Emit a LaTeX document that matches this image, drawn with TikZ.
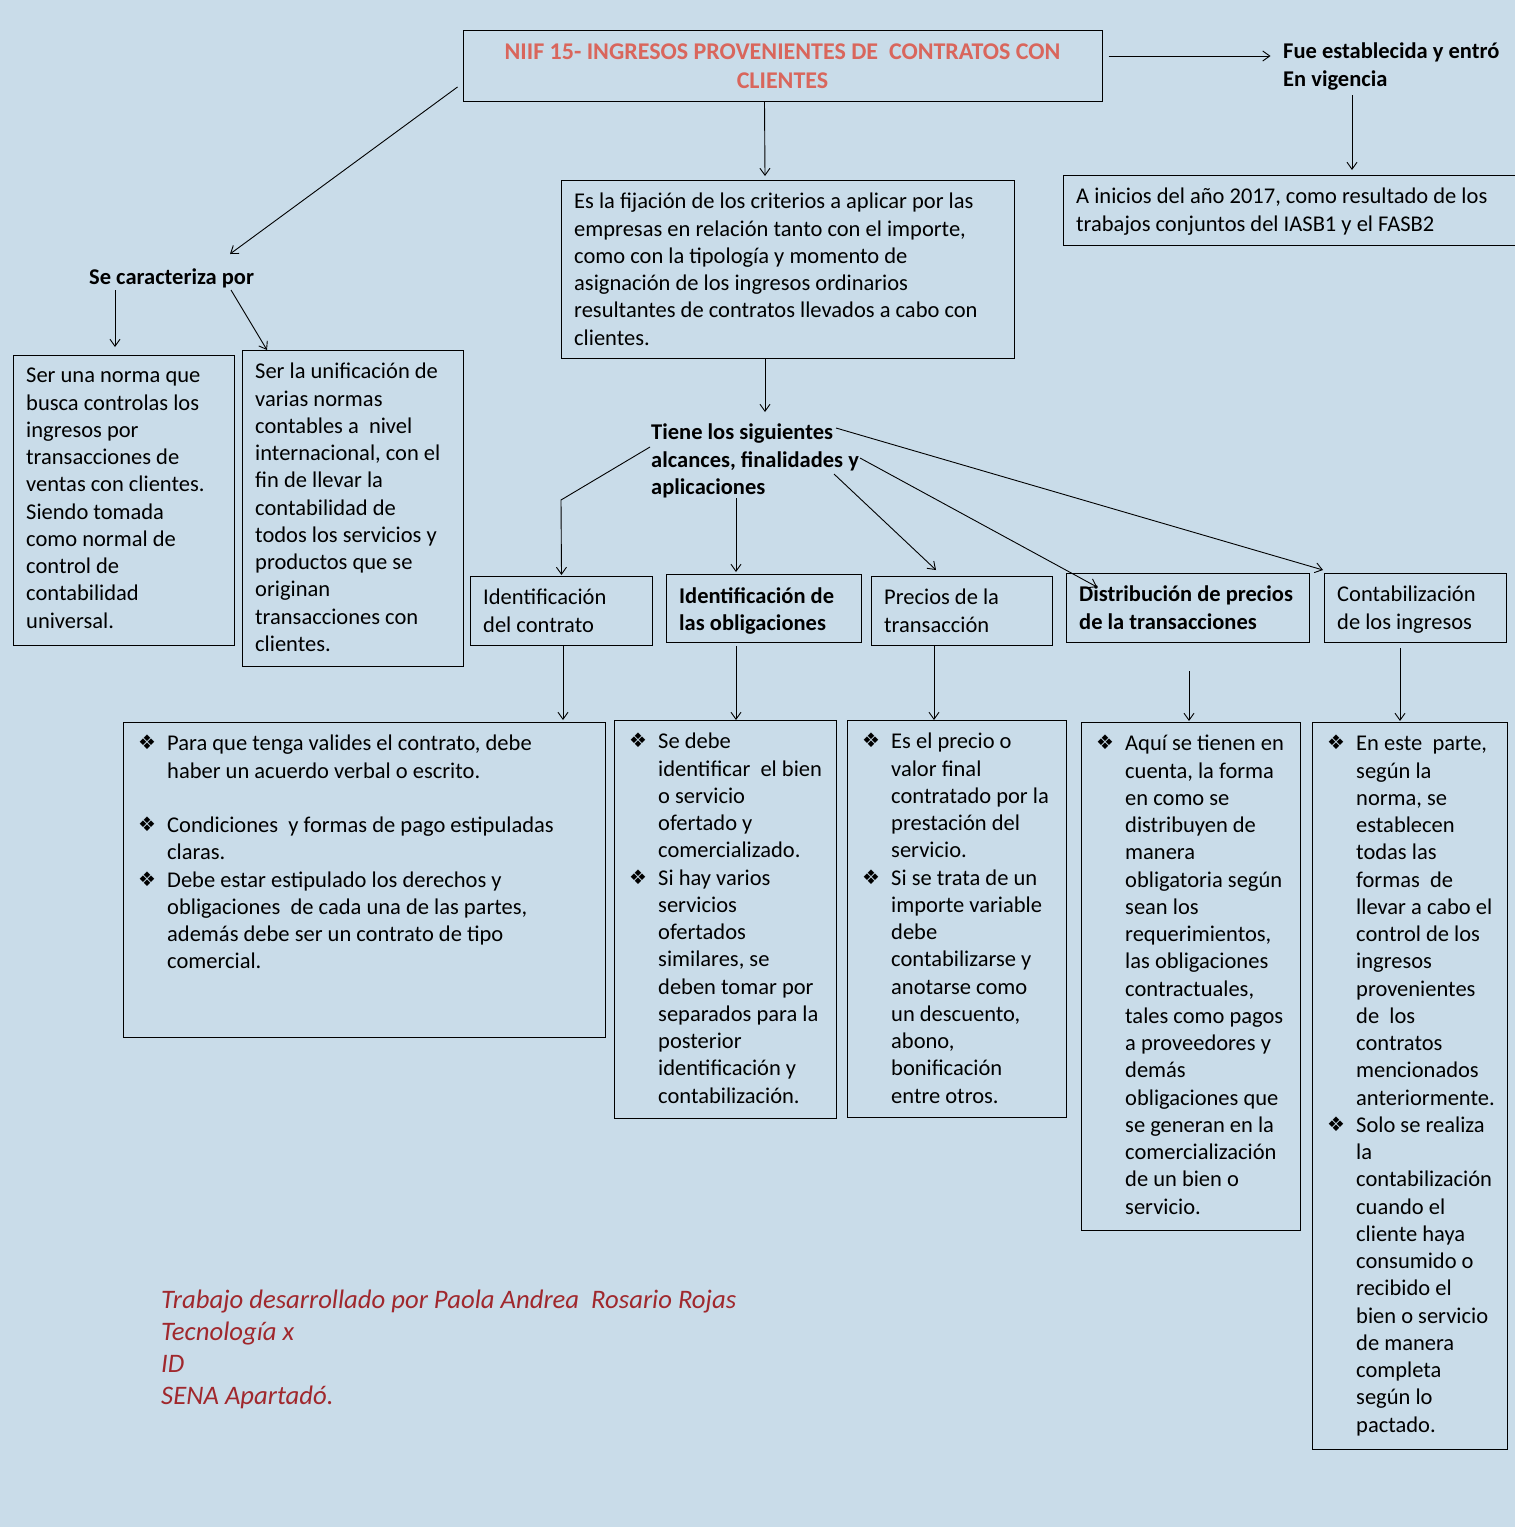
\documentclass[tikz,border=0pt]{standalone}
\usepackage{fontspec}
\setmainfont{Carlito}
\newfontfamily\simb{DejaVu Sans}
\usetikzlibrary{arrows.meta}

\definecolor{fondo}{RGB}{201,220,233}
\definecolor{rojotit}{RGB}{217,102,92}
\definecolor{rojopie}{RGB}{160,40,45}

\newcommand{\cuerpo}{\fontsize{22.5}{27.25}\selectfont}
\newcommand{\titulo}{\fontsize{24}{29}\selectfont\bfseries}
\newcommand{\pie}{\fontsize{26.7}{32}\selectfont\itshape}
\newcommand{\vin}{\makebox[29pt][l]{\raisebox{1pt}{\simb\fontsize{20}{20}\selectfont ❖}}}
\newcommand{\sig}{\hspace*{29pt}}

\begin{document}
\begin{tikzpicture}[x=1pt,y=-1pt,
  caja/.style={draw, line width=1pt, anchor=north west, inner sep=0pt},
  texto/.style={anchor=north west, inner xsep=13pt, inner ysep=13pt, align=left, font=\cuerpo, execute at begin node=\strut},
  vinetas/.style={texto, inner xsep=15pt},
  negrita/.style={anchor=north west, inner sep=0pt, align=left, font=\cuerpo\bfseries, execute at begin node=\strut},
  flecha/.style={-{Straight Barb[length=7pt,width=10pt]}, line width=0.9pt}]

  \useasboundingbox (0,0) rectangle (1515,1527);
  \fill[fondo] (0,0) rectangle (1515,1527);

  % norma y vigencia
  \node[draw, line width=1pt, minimum width=639, minimum height=71, align=center, font=\titulo, text=rojotit] (titulo) at (782.5,66)
    {NIIF 15- INGRESOS PROVENIENTES DE\ \ CONTRATOS CON\\CLIENTES};
  \node[negrita] (fue) at (1283,43) {Fue establecida y entró\\En vigencia};
  \node[caja, minimum width=453, minimum height=70] (vig) at (1063,175) {};
  \node[texto] (vigt) at (vig.north west) {A inicios del año 2017, como resultado de los\\trabajos conjuntos del IASB1 y el FASB2};

  \node[caja, minimum width=453, minimum height=178] (def) at (561,180) {};
  \node[texto] (deft) at (def.north west) {Es la fijación de los criterios a aplicar por las\\
    empresas en relación tanto con el importe,\\
    como con la tipología y momento de\\
    asignación de los ingresos ordinarios\\
    resultantes de contratos llevados a cabo con\\
    clientes.};

  % caracteristicas
  \node[negrita] (carac) at (89,265) {Se caracteriza por};
  \node[caja, minimum width=221, minimum height=290] (norma1) at (13,355) {};
  \node[texto] (norma1t) at (norma1.north west) {Ser una norma que\\busca controlas los\\ingresos por\\transacciones de\\ventas con clientes.\\Siendo tomada\\como normal de\\control de\\contabilidad\\universal.};
  \node[caja, minimum width=221, minimum height=316] (norma2) at (242,350) {};
  \node[texto] (norma2t) at (norma2.north west) {Ser la unificación de\\varias normas\\contables a\ \ nivel\\internacional, con el\\fin de llevar la\\contabilidad de\\todos los servicios y\\productos que se\\originan\\transacciones con\\clientes.};

  % alcances
  \node[negrita] (tiene) at (651,424) {Tiene los siguientes\\alcances, finalidades y\\aplicaciones};

  \node[caja, minimum width=182, minimum height=69] (contrato) at (470,576) {};
  \node[texto] (contratot) at (contrato.north west) {Identificación\\del contrato};
  \node[caja, minimum width=195, minimum height=68] (oblig) at (666,574) {};
  \node[texto, font=\cuerpo\bfseries] (obligt) at (oblig.north west) {Identificación de\\las obligaciones};
  \node[caja, minimum width=181, minimum height=69] (precios) at (871,576) {};
  \node[texto] (preciost) at (precios.north west) {Precios de la\\transacción};
  \node[caja, minimum width=243, minimum height=69] (distrib) at (1066,573) {};
  \node[texto, font=\cuerpo\bfseries] (distribt) at (distrib.north west) {Distribución de precios\\de la transacciones};
  \node[caja, minimum width=182, minimum height=69] (contab) at (1324,573) {};
  \node[texto] (contabt) at (contab.north west) {Contabilización\\de los ingresos};

  % detalles
  \node[caja, minimum width=482, minimum height=315] (det1) at (123,722) {};
  \node[vinetas] (det1t) at (det1.north west) {\vin Para que tenga valides el contrato, debe\\
    \sig haber un acuerdo verbal o escrito.\\
    \mbox{}\\
    \vin Condiciones\ \ y formas de pago estipuladas\\
    \sig claras.\\
    \vin Debe estar estipulado los derechos y\\
    \sig obligaciones\ \ de cada una de las partes,\\
    \sig además debe ser un contrato de tipo\\
    \sig comercial.};
  \node[caja, minimum width=222, minimum height=398] (det2) at (614,720) {};
  \node[vinetas] (det2t) at (det2.north west) {\vin Se debe\\
    \sig identificar\ \ el bien\\
    \sig o servicio\\
    \sig ofertado y\\
    \sig comercializado.\\
    \vin Si hay varios\\
    \sig servicios\\
    \sig ofertados\\
    \sig similares, se\\
    \sig deben tomar por\\
    \sig separados para la\\
    \sig posterior\\
    \sig identificación y\\
    \sig contabilización.};
  \node[caja, minimum width=219, minimum height=397] (det3) at (847,720) {};
  \node[vinetas] (det3t) at (det3.north west) {\vin Es el precio o\\
    \sig valor final\\
    \sig contratado por la\\
    \sig prestación del\\
    \sig servicio.\\
    \vin Si se trata de un\\
    \sig importe variable\\
    \sig debe\\
    \sig contabilizarse y\\
    \sig anotarse como\\
    \sig un descuento,\\
    \sig abono,\\
    \sig bonificación\\
    \sig entre otros.};
  \node[caja, minimum width=219, minimum height=508] (det4) at (1081,722) {};
  \node[vinetas] (det4t) at (det4.north west) {\vin Aquí se tienen en\\
    \sig cuenta, la forma\\
    \sig en como se\\
    \sig distribuyen de\\
    \sig manera\\
    \sig obligatoria según\\
    \sig sean los\\
    \sig requerimientos,\\
    \sig las obligaciones\\
    \sig contractuales,\\
    \sig tales como pagos\\
    \sig a proveedores y\\
    \sig demás\\
    \sig obligaciones que\\
    \sig se generan en la\\
    \sig comercialización\\
    \sig de un bien o\\
    \sig servicio.};
  \node[caja, minimum width=195, minimum height=727] (det5) at (1312,722) {};
  \node[vinetas] (det5t) at (det5.north west) {\vin En este\ \ parte,\\
    \sig según la\\
    \sig norma, se\\
    \sig establecen\\
    \sig todas las\\
    \sig formas\ \ de\\
    \sig llevar a cabo el\\
    \sig control de los\\
    \sig ingresos\\
    \sig provenientes\\
    \sig de\ \ los\\
    \sig contratos\\
    \sig mencionados\\
    \sig anteriormente.\\
    \vin Solo se realiza\\
    \sig la\\
    \sig contabilización\\
    \sig cuando el\\
    \sig cliente haya\\
    \sig consumido o\\
    \sig recibido el\\
    \sig bien o servicio\\
    \sig de manera\\
    \sig completa\\
    \sig según lo\\
    \sig pactado.};

  \node[anchor=north west, inner sep=0pt, align=left, font=\pie, text=rojopie, execute at begin node=\strut] (autora) at (161,1290)
    {Trabajo desarrollado por Paola Andrea\ \ Rosario Rojas\\Tecnología x\\ID\\SENA Apartadó.};

  % flechas
  \draw[flecha] ([shift={(6,-10)}]titulo.east) -- ++(162,0);
  \draw[flecha] ([shift={(69,52)}]fue.north west) -- ([shift={(289,-5)}]vig.north west);
  \draw[flecha] ([shift={(302,0)}]titulo.south west) -- ([shift={(204,-4)}]def.north west);
  \draw[flecha] ([shift={(-5,-15)}]titulo.south west) -- ([shift={(141,-11)}]carac.north west);
  \draw[flecha] ([shift={(26,25)}]carac.north west) -- ([shift={(102,-8)}]norma1.north west);
  \draw[flecha] ([shift={(142,25)}]carac.north west) -- ([shift={(25,0)}]norma2.north west);
  \draw[flecha] ([shift={(204,0)}]def.south west) -- ([shift={(114,-12)}]tiene.north west);

  \draw[flecha] ([shift={(-1,23)}]tiene.north west) -- ++(-89,53) -- ([shift={(0,-1)}]contrato.north);
  \draw[flecha] ([shift={(85,74)}]tiene.north west) -- ([shift={(70,-2)}]oblig.north west);
  \draw[flecha] ([shift={(183,50)}]tiene.north west) -- ([shift={(65,-6)}]precios.north west);
  \draw[flecha] ([shift={(209,34)}]tiene.north west) -- ([shift={(31,14)}]distrib.north west);
  \draw[flecha] ([shift={(185,4)}]tiene.north west) -- ([shift={(-1,-3)}]contab.north west);

  \draw[flecha] ([shift={(93,0)}]contrato.south west) -- ([shift={(440,-2)}]det1.north west);
  \draw[flecha] ([shift={(70,3)}]oblig.south west) -- ([shift={(122,0)}]det2.north west);
  \draw[flecha] ([shift={(63,0)}]precios.south west) -- ([shift={(87,0)}]det3.north west);
  \draw[flecha] ([shift={(123,28)}]distrib.south west) -- ([shift={(108,-1)}]det4.north west);
  \draw[flecha] ([shift={(76,5)}]contab.south west) -- ([shift={(88,-1)}]det5.north west);
\end{tikzpicture}
\end{document}
